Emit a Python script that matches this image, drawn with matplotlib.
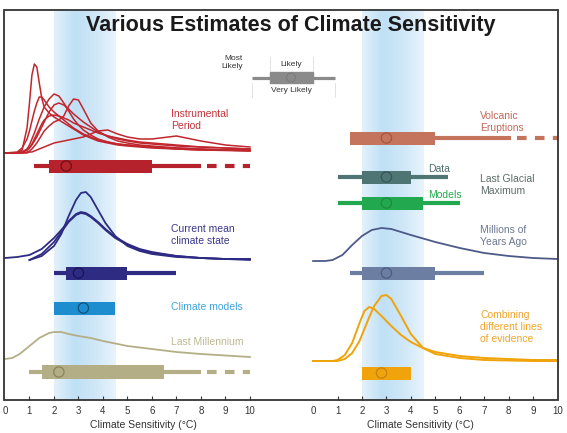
import numpy as np
import matplotlib
matplotlib.use("Agg")
import matplotlib.pyplot as plt
from matplotlib.colors import LinearSegmentedColormap
from matplotlib.patches import Rectangle

plt.rcParams["font.family"] = ["Liberation Sans", "DejaVu Sans"]

W, H = 567, 433

# --- curve data (x in degC, height above the row baseline in px) ---
inst_x = [0, 0.5, 0.7, 0.9, 1.0, 1.1, 1.2, 1.3, 1.4, 1.5, 1.6, 1.8, 2.0, 2.2, 2.4,
          2.6, 2.8, 3.0, 3.2, 3.5, 3.8, 4.2, 4.6, 5.0, 5.5, 6, 7, 8, 9, 10]
inst_a = [0, 0, 3, 25, 50, 78, 89, 86, 70, 55, 46, 40, 36, 33, 30, 27, 24, 21, 18,
          15, 12, 10, 8, 7, 6, 5, 4, 3, 2.5, 2]
inst_b = [0, 0, 1, 4, 8, 14, 20, 27, 34, 40, 46, 54, 59, 57, 50, 42, 34, 28, 23, 18,
          14, 11, 9, 8, 7, 6, 4, 3, 3, 2]
inst_c = [0, 0, 0, 1, 2, 4, 7, 10, 14, 18, 22, 27, 31, 33, 37, 47, 54, 53, 44, 30,
          22, 16, 12, 10, 8, 7, 5, 4, 3, 3]
inst_d = [0, 1, 5, 14, 22, 32, 42, 50, 56, 56, 53, 46, 41, 37, 33, 29, 25, 22, 19,
          16, 13, 11, 9, 8, 7, 6, 5, 4, 3, 3]
inst_e = [0, 0, 1, 3, 5, 8, 12, 16, 21, 26, 31, 41, 48, 50, 48, 44, 39, 35, 31, 26,
          21, 17, 14, 12, 10, 9, 7, 6, 5, 4]
inst_f = [0, 0, 1, 3, 5, 9, 14, 19, 24, 29, 33, 37, 38, 37, 35, 33, 30, 28, 26, 23,
          20, 17, 15, 13, 11, 10, 8, 6, 5, 4]
inst_g = [0, 0, 0, 0, 1, 1, 2, 3, 4, 5, 6, 8, 10, 11, 12, 13, 14, 15, 16, 19, 22,
          23, 19, 16, 14, 14, 17, 12, 8, 6]

cur_x = [0, 0.5, 1.0, 1.5, 2.0, 2.3, 2.6, 2.9, 3.1, 3.3, 3.5, 3.8, 4.1, 4.5, 5.0,
         5.5, 6, 7, 8, 9, 10]
cur_tall = [np.nan, np.nan, 0, 4, 14, 26, 44, 60, 67, 68, 63, 50, 37, 24, 14, 9, 6,
            3, 2, 1, 1]
cur_broad1 = [2, 3, 5, 11, 22, 30, 39, 46, 48, 47, 44, 38, 31, 23, 16, 11, 8, 4, 2,
              1, 0]
cur_broad2 = [np.nan, np.nan, 0, 6, 18, 28, 38, 45, 47, 46, 43, 37, 30, 22, 15, 10,
              7, 4, 2, 1, 1]

mill_x = [0, 0.3, 0.6, 1.0, 1.4, 1.8, 2.0, 2.3, 2.6, 3.0, 3.5, 4.0, 5.0, 6.0, 7.0,
          8.0, 9.0, 10]
mill_h = [0, 1, 5, 13, 21, 26, 27, 27, 25, 23, 21, 18, 13, 10, 7, 5, 3.5, 2]

myr_x = [0, 0.5, 0.8, 1.2, 1.6, 2.0, 2.4, 2.8, 3.2, 3.6, 4.0, 5.0, 6.0, 7.0, 8.0,
         9.0, 10]
myr_h = [0, 0, 1, 6, 16, 25, 31, 33, 32, 29, 26, 19, 13, 8, 5, 3, 2]

comb_x = [0, 0.8, 1.0, 1.3, 1.6, 1.9, 2.1, 2.3, 2.5, 2.8, 3.0, 3.2, 3.6, 4.0, 4.5,
          5.0, 6, 7, 8, 9, 10]
comb_a = [0, 0, 1, 6, 18, 38, 50, 54, 52, 45, 40, 35, 26, 19, 13, 9, 5, 3, 2, 1, 1]
comb_b = [0, 0, 0, 2, 8, 20, 32, 44, 55, 65, 66, 62, 45, 27, 13, 7, 3, 1, 0.5, 0, 0]

# --- ranges: (very likely lo, likely lo, most likely, likely hi, very likely hi, dashed to)
inst_range = [1.2, 1.8, 2.5, 6.0, 8.0, 10]
cur_range = [2.0, 2.5, 3.0, 5.0, 7.0, None]
models_range = [None, 2.0, 3.2, 4.5, None, None]
mill_range = [1.0, 1.5, 2.2, 6.5, 8.0, 10]
volc_range = [None, 1.5, 3.0, 5.0, 8.1, 10]
lgm_data_range = [1.0, 2.0, 3.0, 4.0, 5.5, None]
lgm_model_range = [1.0, 2.0, 3.0, 4.5, 6.0, None]
myr_range = [1.5, 2.0, 3.0, 5.0, 7.0, None]
comb_range = [None, 2.0, 2.8, 4.0, None, None]

RED = "#c0262e"
NAVY = "#2e2b82"
BLUE = "#1e8dcf"
KHAKI = "#b4ae87"
SALMON = "#c4735d"
SLATE = "#4f7474"
GREEN = "#22a94f"
MYR = "#4d5a88"
MYR_BAR = "#6c7ea2"
ORANGE = "#f0a30a"


def px(x0):
    return x0


fig = plt.figure(figsize=(W / 100, H / 100), dpi=100)
# left panel: 4..283 px, right panel 283..558 px ; rows 10..400
axL = fig.add_axes([4 / W, 33 / H, 279 / W, 390 / H])
axR = fig.add_axes([283 / W, 33 / H, 275 / W, 390 / H])
axL.set_xlim(-0.04, 11.35)
axR.set_xlim(-1.23, 10.02)

band_cmap = LinearSegmentedColormap.from_list(
    "band", ["#e4f1fb", "#bfe0f5", "#cfe7f8", "#e8f4fc"])
grad = np.linspace(0, 1, 200).reshape(1, -1)

for ax in (axL, axR):
    ax.set_ylim(0, 390)
    ax.imshow(grad, extent=[2, 4.5, 0, 390], aspect="auto", cmap=band_cmap,
              zorder=0, interpolation="bilinear")
    for s in ax.spines.values():
        s.set_visible(False)
    ax.set_yticks([])
    ax.set_xticks(range(11))
    ax.set_xticklabels([str(i) for i in range(11)])
    ax.tick_params(axis="x", direction="in", length=3, width=0.8, color="#333333",
                   labelsize=7, labelcolor="#333333", pad=4)
    ax.set_xlabel("Climate Sensitivity (°C)", fontsize=7.5, color="#333333",
                  labelpad=3)
    ax.patch.set_alpha(0)
axL.xaxis.get_major_ticks()[0].tick1line.set_visible(False)
axR.xaxis.get_major_ticks()[0].tick1line.set_visible(False)
axR.xaxis.get_major_ticks()[10].tick1line.set_visible(False)
axL.set_xlim(-0.04, 11.35)
axR.set_xlim(-1.23, 10.02)


def curves(ax, xs, hs_list, base, color, lw=1.2):
    for hs in hs_list:
        ax.plot(xs, base + np.array(hs, dtype=float), color=color, lw=lw,
                solid_joinstyle="round", zorder=3)


def range_bar(ax, rng, y, color, height=13, edge=None):
    vlo, llo, ml, lhi, vhi, dash_to = rng
    if vlo is not None:
        ax.hlines(y, vlo, llo, color=color, lw=3, zorder=3, capstyle="butt")
    if vhi is not None:
        ax.hlines(y, lhi, vhi, color=color, lw=3, zorder=3, capstyle="butt")
    if dash_to is not None:
        ax.hlines(y, vhi + 0.25, dash_to, color=color, lw=3, zorder=3,
                  linestyles=(0, (2.3, 2.0)))
    ax.barh(y, lhi - llo, left=llo, height=height, color=color, zorder=4)
    ax.scatter([ml], [y], s=55, facecolors="none",
               edgecolors=edge if edge else "#00000055", linewidths=0.9, zorder=5)


# left panel rows (height above bottom axis, px)
curves(axL, inst_x, [inst_a, inst_b, inst_c, inst_d, inst_e, inst_f, inst_g], 247, RED, lw=1.1)
range_bar(axL, inst_range, 234, "#b5222b", edge="#6e1016")
curves(axL, cur_x, [cur_tall, cur_broad1, cur_broad2], 140, NAVY, lw=1.3)
range_bar(axL, cur_range, 127, NAVY, edge="#17155a")
range_bar(axL, models_range, 92, BLUE, edge="#11507a")
curves(axL, mill_x, [mill_h], 41, KHAKI, lw=1.3)
range_bar(axL, mill_range, 28, KHAKI, height=14, edge="#8a845f")

txt = dict(fontsize=7.5, va="center", ha="left", linespacing=1.25)
axL.text(6.78, 280, "Instrumental\nPeriod", color="#c2343c", **txt)
axL.text(6.78, 165, "Current mean\nclimate state", color="#3a378a", **txt)
axL.text(6.78, 93, "Climate models", color="#3fa4df", **txt)
axL.text(6.78, 58, "Last Millennium", color="#bdb893", **txt)

# right panel
range_bar(axR, volc_range, 262, SALMON, edge="#a4553f")
range_bar(axR, lgm_data_range, 223, SLATE, edge="#35565a")
range_bar(axR, lgm_model_range, 197, GREEN, edge="#1c8a40")
curves(axR, myr_x, [myr_h], 139, MYR, lw=1.3)
range_bar(axR, myr_range, 127, MYR_BAR, edge="#4d5e82")
curves(axR, comb_x, [comb_a, comb_b], 39, ORANGE, lw=1.4)
range_bar(axR, comb_range, 27, ORANGE, edge="#c7820a")

axR.text(6.83, 278, "Volcanic\nEruptions", color="#c26a5b", **txt)
axR.text(4.7, 231, "Data", color="#4f6e6e", **txt)
axR.text(6.83, 215, "Last Glacial\nMaximum", color="#5c6d69", **txt)
axR.text(4.7, 205, "Models", color=GREEN, **txt)
axR.text(6.83, 164, "Millions of\nYears Ago", color="#6c7890", **txt)
axR.text(6.83, 73, "Combining\ndifferent lines\nof evidence", color="#f0a52a", **txt)

# overlay in figure pixels: frame, title, key
ov = fig.add_axes([0, 0, 1, 1])
ov.set_xlim(0, W)
ov.set_ylim(H, 0)
ov.axis("off")
ov.patch.set_alpha(0)
ov.add_patch(Rectangle((4, 10), 554, 390, fill=False, lw=1.3, ec="#333333", zorder=6))
ov.text(291, 26, "Various Estimates of Climate Sensitivity", fontsize=15.5,
        fontweight="bold", ha="center", va="center", color="#1a1a1a")

GREY = "#8a8a8a"
ov.plot([252, 335], [77.5, 77.5], color=GREY, lw=2.3, solid_capstyle="butt")
ov.add_patch(Rectangle((270, 72), 43, 11, color=GREY, zorder=3))
ov.scatter([291], [77.5], s=40, facecolors="none", edgecolors="#777777", lw=0.6, zorder=4)
for xv in (270, 313):
    ov.plot([xv, xv], [57, 72], color="#dddddd", lw=0.6)
for xv in (252, 335):
    ov.plot([xv, xv], [83, 97], color="#dddddd", lw=0.6)
ov.text(291, 64, "Likely", fontsize=6, ha="center", va="center", color="#333333")
ov.text(291, 90, "Very Likely", fontsize=6, ha="center", va="center", color="#333333")
ov.text(243, 63, "Most\nLikely", fontsize=6, ha="right", va="center",
        color="#333333", linespacing=1.2)

fig.savefig("out.png", dpi=100)
